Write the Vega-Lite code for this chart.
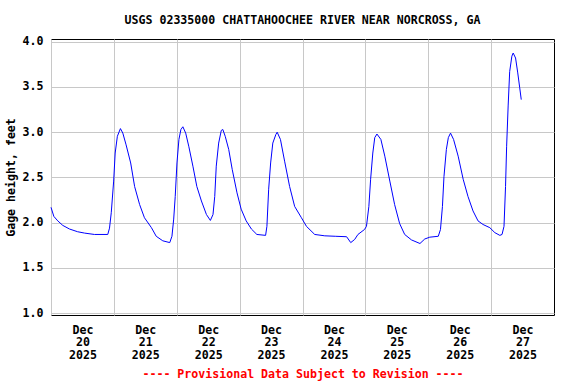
{
  "$schema": "https://vega.github.io/schema/vega-lite/v6.json",
  "autosize": "none",
  "width": 503,
  "height": 276,
  "padding": {"left": 51, "top": 39, "right": 22, "bottom": 69},
  "background": "white",
  "title": {
    "text": "USGS 02335000 CHATTAHOOCHEE RIVER NEAR NORCROSS, GA",
    "font": "DejaVu Sans Mono",
    "fontSize": 11.6,
    "fontWeight": "bold",
    "color": "black",
    "anchor": "middle",
    "frame": "group",
    "baseline": "alphabetic",
    "offset": 0
  },
  "config": {
    "view": {"stroke": "black", "strokeWidth": 1},
    "axis": {
      "labelFont": "DejaVu Sans Mono",
      "labelFontSize": 11.6,
      "labelFontWeight": "bold",
      "labelColor": "black",
      "titleFont": "DejaVu Sans Mono",
      "titleFontSize": 11.6,
      "titleFontWeight": "bold",
      "titleColor": "black",
      "gridColor": "#c8c8c8",
      "gridWidth": 1,
      "gridOpacity": 1,
      "ticks": false,
      "domain": false
    }
  },
  "data": {
    "values": [
      {"time": "2025-12-20T00:00", "gage": 2.17},
      {"time": "2025-12-20T01:05", "gage": 2.07},
      {"time": "2025-12-20T02:35", "gage": 2.02},
      {"time": "2025-12-20T04:30", "gage": 1.97},
      {"time": "2025-12-20T07:05", "gage": 1.93},
      {"time": "2025-12-20T10:10", "gage": 1.9},
      {"time": "2025-12-20T12:50", "gage": 1.885},
      {"time": "2025-12-20T16:35", "gage": 1.87},
      {"time": "2025-12-20T21:40", "gage": 1.87},
      {"time": "2025-12-20T22:20", "gage": 1.94},
      {"time": "2025-12-20T23:00", "gage": 2.11},
      {"time": "2025-12-20T23:55", "gage": 2.46},
      {"time": "2025-12-21T00:30", "gage": 2.77},
      {"time": "2025-12-21T01:20", "gage": 2.955},
      {"time": "2025-12-21T02:30", "gage": 3.04},
      {"time": "2025-12-21T03:25", "gage": 2.99},
      {"time": "2025-12-21T04:40", "gage": 2.86},
      {"time": "2025-12-21T06:25", "gage": 2.66},
      {"time": "2025-12-21T07:55", "gage": 2.4},
      {"time": "2025-12-21T09:50", "gage": 2.2},
      {"time": "2025-12-21T11:40", "gage": 2.055},
      {"time": "2025-12-21T14:20", "gage": 1.945},
      {"time": "2025-12-21T16:10", "gage": 1.85},
      {"time": "2025-12-21T18:40", "gage": 1.8},
      {"time": "2025-12-21T21:20", "gage": 1.78},
      {"time": "2025-12-21T22:10", "gage": 1.85},
      {"time": "2025-12-21T22:50", "gage": 2.04},
      {"time": "2025-12-21T23:25", "gage": 2.29},
      {"time": "2025-12-22T00:05", "gage": 2.66},
      {"time": "2025-12-22T00:50", "gage": 2.92},
      {"time": "2025-12-22T01:35", "gage": 3.03},
      {"time": "2025-12-22T02:20", "gage": 3.06},
      {"time": "2025-12-22T03:25", "gage": 2.99},
      {"time": "2025-12-22T04:35", "gage": 2.845},
      {"time": "2025-12-22T06:10", "gage": 2.625},
      {"time": "2025-12-22T07:40", "gage": 2.4},
      {"time": "2025-12-22T09:25", "gage": 2.24},
      {"time": "2025-12-22T11:20", "gage": 2.09},
      {"time": "2025-12-22T12:50", "gage": 2.025},
      {"time": "2025-12-22T13:50", "gage": 2.09},
      {"time": "2025-12-22T14:30", "gage": 2.29},
      {"time": "2025-12-22T15:05", "gage": 2.625},
      {"time": "2025-12-22T16:00", "gage": 2.88},
      {"time": "2025-12-22T17:00", "gage": 3.02},
      {"time": "2025-12-22T17:35", "gage": 3.03},
      {"time": "2025-12-22T18:30", "gage": 2.955},
      {"time": "2025-12-22T19:50", "gage": 2.81},
      {"time": "2025-12-22T21:10", "gage": 2.59},
      {"time": "2025-12-22T23:00", "gage": 2.33},
      {"time": "2025-12-23T00:35", "gage": 2.15},
      {"time": "2025-12-23T02:30", "gage": 2.02},
      {"time": "2025-12-23T04:30", "gage": 1.93},
      {"time": "2025-12-23T06:35", "gage": 1.87},
      {"time": "2025-12-23T09:55", "gage": 1.86},
      {"time": "2025-12-23T10:25", "gage": 1.96},
      {"time": "2025-12-23T11:05", "gage": 2.37},
      {"time": "2025-12-23T11:50", "gage": 2.66},
      {"time": "2025-12-23T12:40", "gage": 2.88},
      {"time": "2025-12-23T13:50", "gage": 2.975},
      {"time": "2025-12-23T14:20", "gage": 3.0},
      {"time": "2025-12-23T15:35", "gage": 2.92},
      {"time": "2025-12-23T17:10", "gage": 2.68},
      {"time": "2025-12-23T19:05", "gage": 2.4},
      {"time": "2025-12-23T21:00", "gage": 2.18},
      {"time": "2025-12-23T23:35", "gage": 2.055},
      {"time": "2025-12-24T01:30", "gage": 1.96},
      {"time": "2025-12-24T04:40", "gage": 1.87},
      {"time": "2025-12-24T08:30", "gage": 1.855},
      {"time": "2025-12-24T12:30", "gage": 1.85},
      {"time": "2025-12-24T16:50", "gage": 1.845},
      {"time": "2025-12-24T18:25", "gage": 1.78},
      {"time": "2025-12-24T19:55", "gage": 1.815},
      {"time": "2025-12-24T21:10", "gage": 1.87},
      {"time": "2025-12-24T23:40", "gage": 1.925},
      {"time": "2025-12-25T00:25", "gage": 1.96},
      {"time": "2025-12-25T01:20", "gage": 2.18},
      {"time": "2025-12-25T02:00", "gage": 2.48},
      {"time": "2025-12-25T02:50", "gage": 2.77},
      {"time": "2025-12-25T03:35", "gage": 2.94},
      {"time": "2025-12-25T04:25", "gage": 2.98},
      {"time": "2025-12-25T05:55", "gage": 2.92},
      {"time": "2025-12-25T07:25", "gage": 2.735},
      {"time": "2025-12-25T09:20", "gage": 2.46},
      {"time": "2025-12-25T11:10", "gage": 2.2},
      {"time": "2025-12-25T13:05", "gage": 1.99},
      {"time": "2025-12-25T15:00", "gage": 1.87},
      {"time": "2025-12-25T17:35", "gage": 1.81},
      {"time": "2025-12-25T20:50", "gage": 1.77},
      {"time": "2025-12-25T22:40", "gage": 1.82},
      {"time": "2025-12-26T00:35", "gage": 1.84},
      {"time": "2025-12-26T03:50", "gage": 1.85},
      {"time": "2025-12-26T04:40", "gage": 1.925},
      {"time": "2025-12-26T05:25", "gage": 2.18},
      {"time": "2025-12-26T06:00", "gage": 2.51},
      {"time": "2025-12-26T06:55", "gage": 2.81},
      {"time": "2025-12-26T07:40", "gage": 2.94},
      {"time": "2025-12-26T08:30", "gage": 2.99},
      {"time": "2025-12-26T09:40", "gage": 2.92},
      {"time": "2025-12-26T11:25", "gage": 2.735},
      {"time": "2025-12-26T13:20", "gage": 2.48},
      {"time": "2025-12-26T15:10", "gage": 2.29},
      {"time": "2025-12-26T17:05", "gage": 2.13},
      {"time": "2025-12-26T19:00", "gage": 2.02},
      {"time": "2025-12-26T20:55", "gage": 1.98},
      {"time": "2025-12-26T23:30", "gage": 1.945},
      {"time": "2025-12-27T01:25", "gage": 1.89},
      {"time": "2025-12-27T03:20", "gage": 1.86},
      {"time": "2025-12-27T04:10", "gage": 1.87},
      {"time": "2025-12-27T04:55", "gage": 1.96},
      {"time": "2025-12-27T05:30", "gage": 2.4},
      {"time": "2025-12-27T05:55", "gage": 2.845},
      {"time": "2025-12-27T06:30", "gage": 3.29},
      {"time": "2025-12-27T07:05", "gage": 3.67},
      {"time": "2025-12-27T07:55", "gage": 3.84},
      {"time": "2025-12-27T08:25", "gage": 3.875},
      {"time": "2025-12-27T09:20", "gage": 3.82},
      {"time": "2025-12-27T10:10", "gage": 3.655},
      {"time": "2025-12-27T10:55", "gage": 3.49},
      {"time": "2025-12-27T11:30", "gage": 3.36}
    ]
  },
  "mark": {"type": "line", "color": "#0000ff", "strokeWidth": 1, "interpolate": "linear"},
  "encoding": {
    "x": {
      "field": "time",
      "type": "temporal",
      "scale": {
        "domain": [
          {"year": 2025, "month": 12, "date": 20},
          {"year": 2025, "month": 12, "date": 28}
        ],
        "nice": false
      },
      "axis": {
        "values": [
          {"year": 2025, "month": 12, "date": 20},
          {"year": 2025, "month": 12, "date": 21},
          {"year": 2025, "month": 12, "date": 22},
          {"year": 2025, "month": 12, "date": 23},
          {"year": 2025, "month": 12, "date": 24},
          {"year": 2025, "month": 12, "date": 25},
          {"year": 2025, "month": 12, "date": 26},
          {"year": 2025, "month": 12, "date": 27}
        ],
        "labelExpr": "[timeFormat(datum.value, '%b'), timeFormat(datum.value, '%d'), timeFormat(datum.value, '%Y')]",
        "labelOffset": 31.4,
        "labelAlign": "center",
        "labelBaseline": "top",
        "labelLineHeight": 12.6,
        "labelPadding": 9,
        "labelOverlap": false,
        "labelFlush": false,
        "labelBound": false,
        "grid": true,
        "title": "---- Provisional Data Subject to Revision ----",
        "titleColor": "#ff0000",
        "titlePadding": 8,
        "titleX": 251.5
      }
    },
    "y": {
      "field": "gage",
      "type": "quantitative",
      "scale": {"domain": [0.98, 4.03], "nice": false, "zero": false},
      "axis": {
        "values": [1.0, 1.5, 2.0, 2.5, 3.0, 3.5, 4.0],
        "format": ".1f",
        "grid": true,
        "labelPadding": 8,
        "title": "Gage height, feet",
        "titlePadding": 6
      }
    }
  }
}
